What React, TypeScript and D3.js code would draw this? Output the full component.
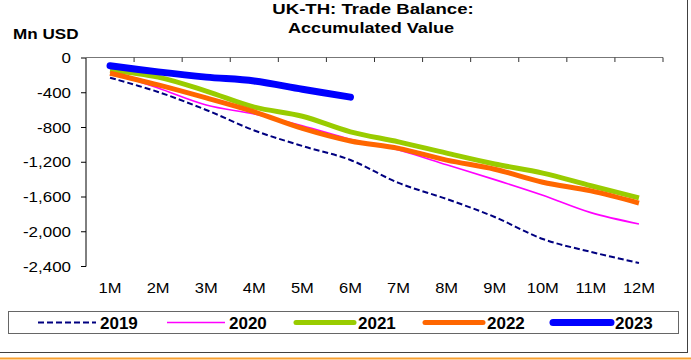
import React from "react";
import * as d3 from "d3";

const months = ["1M", "2M", "3M", "4M", "5M", "6M", "7M", "8M", "9M", "10M", "11M", "12M"];
const yTicks = [0, -400, -800, -1200, -1600, -2000, -2400];

const s2019 = [-227, -391, -598, -834, -1013, -1174, -1438, -1623, -1830, -2083, -2232, -2360];
const s2020 = [-160, -345, -540, -645, -780, -935, -1060, -1230, -1400, -1580, -1780, -1910];
const s2021 = [-140, -220, -380, -565, -670, -850, -965, -1095, -1220, -1325, -1470, -1610];
const s2022 = [-175, -310, -460, -620, -810, -955, -1040, -1175, -1280, -1430, -1530, -1670];
const s2023 = [-90, -160, -220, -265, -360, -450];

const seriesNames = ["2019", "2020", "2021", "2022", "2023"];
const seriesData = [s2019, s2020, s2021, s2022, s2023];
const seriesColors = ["#000080", "#FF00FF", "#99CC00", "#FF6600", "#0000FF"];
const seriesWidths = [2, 1.6, 5, 5, 7];
const seriesDash = ["6,3", null, null, null, null];

function T(props: {
  x: number;
  y: number;
  size: number;
  sx?: number;
  anchor?: string;
  bold?: boolean;
  children: React.ReactNode;
}) {
  const { x, y, size, sx = 1, anchor = "start", bold = false, children } = props;
  return (
    <text
      transform={`translate(${x},${y}) scale(${sx},1)`}
      textAnchor={anchor as any}
      fontSize={size}
      fontWeight={bold ? "bold" : "normal"}
      fill="#000"
    >
      {children}
    </text>
  );
}

export default function App() {
  const W = 691, H = 360;
  const left = 86, right = 663, top = 58, bottom = 266.5;
  const x = d3.scaleBand<string>().domain(months).range([left, right]);
  const y = d3.scaleLinear().domain([0, -2400]).range([top, bottom]);
  const font = "'Liberation Sans', Arial, sans-serif";

  const line = d3
    .line<number>()
    .x((_, i) => (x(months[i]) as number) + x.bandwidth() / 2)
    .y((d) => y(d))
    .curve(d3.curveCatmullRom.alpha(0.5));

  const legendX = [38, 167, 296, 425, 553];
  const legendLen = 58;

  return (
    <svg width={W} height={H} style={{ position: "absolute", left: 0, top: 0, background: "#fff" }} fontFamily={font}>
      <rect x={0} y={0} width={W} height={H} fill="#fff" />
      {/* outer frame */}
      <line x1={687.5} y1={0} x2={687.5} y2={352} stroke="#404040" strokeWidth={1} />
      <line x1={0} y1={352.5} x2={688} y2={352.5} stroke="#404040" strokeWidth={1} />
      <line x1={0} y1={358.5} x2={W} y2={358.5} stroke="#F7A030" strokeWidth={2} />

      {/* title */}
      <T x={373} y={13.5} size={15.5} sx={1.2} anchor="middle" bold>UK-TH: Trade Balance:</T>
      <T x={371} y={32.5} size={15.5} sx={1.17} anchor="middle" bold>Accumulated Value</T>
      <T x={13} y={39} size={15} sx={1.14} bold>Mn USD</T>

      {/* y axis */}
      <line x1={left} y1={top} x2={left} y2={bottom} stroke="#000" strokeWidth={1} />
      {yTicks.map((t) => (
        <g key={t}>
          <line x1={left - 5} x2={left} y1={y(t)} y2={y(t)} stroke="#000" />
          <T x={71} y={y(t) + 5} size={15} sx={1.13} anchor="end">
            {d3.format(",")(t).replace("−", "-")}
          </T>
        </g>
      ))}

      {/* x axis at top */}
      <line x1={left} y1={top - 0.5} x2={right} y2={top - 0.5} stroke="#777" strokeWidth={1} />
      {months.map((m) => (
        <line
          key={"t" + m}
          x1={(x(m) as number) + x.bandwidth()}
          x2={(x(m) as number) + x.bandwidth()}
          y1={top - 0.5}
          y2={top + 4}
          stroke="#333"
        />
      ))}
      {months.map((m) => (
        <T key={m} x={(x(m) as number) + x.bandwidth() / 2} y={292.5} size={15} sx={1.1} anchor="middle">
          {m}
        </T>
      ))}

      {/* series */}
      {seriesData.map((d, i) => (
        <path
          key={seriesNames[i]}
          d={line(d) || ""}
          fill="none"
          stroke={seriesColors[i]}
          strokeWidth={seriesWidths[i]}
          strokeDasharray={seriesDash[i] || undefined}
          strokeLinecap={i === 4 ? "round" : "butt"}
          strokeLinejoin="round"
        />
      ))}

      {/* legend */}
      <rect x={8.5} y={311.5} width={670} height={22} fill="#fff" stroke="#666" />
      {seriesNames.map((n, i) => (
        <g key={"lg" + n}>
          <line
            x1={legendX[i]}
            x2={legendX[i] + legendLen}
            y1={322.5}
            y2={322.5}
            stroke={seriesColors[i]}
            strokeWidth={seriesWidths[i]}
            strokeDasharray={seriesDash[i] || undefined}
            strokeLinecap={i >= 2 ? "round" : "butt"}
          />
          <T x={legendX[i] + legendLen + 4} y={329} size={17} bold>
            {n}
          </T>
        </g>
      ))}
    </svg>
  );
}
